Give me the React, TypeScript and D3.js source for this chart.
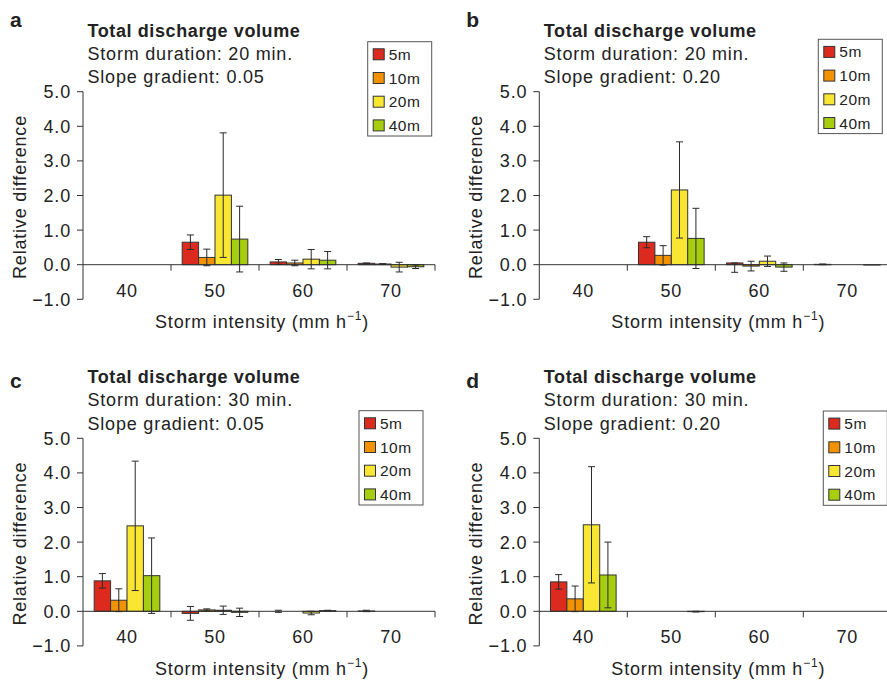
import * as d3 from 'd3';
import React from 'react';

// categories, series, ticks
const categories = ['40', '50', '60', '70'];
const series = ['5m', '10m', '20m', '40m'];
const colors = ['#dc2b1e', '#f39200', '#f8e633', '#a6ce0f'];
const yTicks = [5, 4, 3, 2, 1, 0, -1];

const letters = ['a', 'b', 'c', 'd'];
const durations = ['20', '20', '30', '30'];
const slopes = ['0.05', '0.20', '0.05', '0.20'];

// values per panel: one row per series (5m, 10m, 20m, 40m), one column per category
const valuesA = [
	[null, 0.65, 0.08, 0.04],
	[null, 0.21, 0.05, 0.02],
	[null, 2.01, 0.16, -0.07],
	[null, 0.74, 0.13, -0.06],
];
const errorsA = [
	[0, 0.21, 0.07, 0.01],
	[0, 0.24, 0.08, 0.01],
	[0, 1.8, 0.28, 0.14],
	[0, 0.95, 0.25, 0.05],
];

const valuesB = [
	[null, 0.65, 0.05, 0.01],
	[null, 0.27, -0.04, null],
	[null, 2.16, 0.1, null],
	[null, 0.76, -0.07, -0.01],
];
// [below, above] where asymmetric
const errorsB = [
	[0, 0.16, [0.27, 0], 0.01],
	[0, 0.28, 0.14, 0],
	[0, 1.39, 0.15, 0],
	[0, 0.87, 0.12, 0],
];

const valuesC = [
	[0.88, -0.06, 0.0, 0.01],
	[0.32, 0.04, null, null],
	[2.47, 0.03, -0.05, null],
	[1.03, -0.03, 0.02, null],
];
const errorsC = [
	[0.21, 0.2, 0.03, 0.02],
	[0.33, 0.03, 0, 0],
	[1.87, 0.12, 0.05, 0],
	[1.09, 0.12, 0.01, 0],
];

const valuesD = [
	[0.85, null, null, null],
	[0.36, null, null, null],
	[2.5, null, null, null],
	[1.05, -0.01, null, null],
];
const errorsD = [
	[0.21, 0, 0, 0],
	[0.37, 0, 0, 0],
	[1.68, 0, 0, 0],
	[0.95, 0.01, 0, 0],
];

const panelValues = [valuesA, valuesB, valuesC, valuesD];
const panelErrors = [errorsA, errorsB, errorsC, errorsD];

// layout
const W = 887;
const H = 681;
const plotW = 352;
const plotH = 207.6;
const origins = [
	[83, 91.7],
	[539.3, 91.7],
	[83, 438.3],
	[539.3, 438.3],
];
const letterY = [-64.7, -64.7, -50, -50];
const legendPos = [
	[284.7, -50],
	[279, -52.4],
	[276, -27.6],
	[284, -27.3],
];

const font = 'Liberation Sans, Arial, Helvetica, sans-serif';
const ink = '#222';

const Panel = ({ idx }) => {
	const [ox, oy] = origins[idx];
	const values = panelValues[idx];
	const errors = panelErrors[idx];

	const y = d3.scaleLinear().domain([-1, 5]).range([plotH, 0]);
	const x0 = d3.scaleBand().domain(categories).range([0, plotW]);
	const bw = x0.bandwidth();
	const pad = bw * 0.127;
	const x1 = d3.scaleBand().domain(series).range([pad, bw - pad]);
	const y0 = y(0);

	const [lx, ly] = legendPos[idx];

	return (
		<g transform={`translate(${ox},${oy})`} fontFamily={font} fill={ink}>
			<text x={-73} y={letterY[idx]} fontSize={21} fontWeight="bold">{letters[idx]}</text>
			<text x={4.5} y={-55.2} fontSize={18} fontWeight="bold" letterSpacing={0.6}>Total discharge volume</text>
			<text x={4.5} y={-32} fontSize={18} letterSpacing={0.8}>{`Storm duration: ${durations[idx]} min.`}</text>
			<text x={4.5} y={-8.7} fontSize={18} letterSpacing={0.8}>{`Slope gradient: ${slopes[idx]}`}</text>

			{/* y axis */}
			<line x1={0} x2={0} y1={y(5)} y2={y(-1)} stroke="#333" />
			{yTicks.map(t => (
				<g key={t}>
					<line x1={-6} x2={0} y1={y(t)} y2={y(t)} stroke="#333" />
					<text x={-12} y={y(t)} dy="0.36em" textAnchor="end" fontSize={18} letterSpacing={0.8}>
						{d3.format('.1f')(t).replace('-', '\u2212')}
					</text>
				</g>
			))}
			<text transform={`translate(-57,${y(2) + 1.5}) rotate(-90)`} textAnchor="middle" fontSize={18} letterSpacing={0.8}>
				Relative difference
			</text>

			{/* bars */}
			{series.map((s, si) =>
				categories.map((c, ci) => {
					const v = values[si][ci];
					if (v === null) return null;
					return (
						<rect
							key={`${s}-${c}`}
							x={x0(c) + x1(s)}
							width={x1.bandwidth()}
							y={y(Math.max(v, 0))}
							height={Math.abs(y(v) - y0)}
							fill={colors[si]}
							stroke="#333"
							strokeWidth={1}
						/>
					);
				})
			)}

			{/* x axis */}
			<line x1={0} x2={plotW} y1={y0} y2={y0} stroke="#333" />
			{categories.map(c => (
				<g key={c}>
					<line x1={x0(c) + bw} x2={x0(c) + bw} y1={y0} y2={y0 + 6} stroke="#333" />
					<text x={x0(c) + bw / 2} y={y0 + 32} textAnchor="middle" fontSize={18} letterSpacing={0.8}>{c}</text>
				</g>
			))}

			{/* error bars */}
			{series.map((s, si) =>
				categories.map((c, ci) => {
					const v = values[si][ci];
					const e = errors[si][ci];
					if (v === null) return null;
					const [lo, hi] = Array.isArray(e) ? e : [e, e];
					if (!lo && !hi) return null;
					const cx = x0(c) + x1(s) + x1.bandwidth() / 2;
					const yt = y(v + hi);
					const yb = y(v - lo);
					return (
						<g key={`e-${s}-${c}`} stroke="#2a2a2a" strokeWidth={1}>
							<line x1={cx} x2={cx} y1={yt} y2={yb} />
							<line x1={cx - 3.5} x2={cx + 3.5} y1={yt} y2={yt} />
							<line x1={cx - 3.5} x2={cx + 3.5} y1={yb} y2={yb} />
						</g>
					);
				})
			)}

			<text x={179} y={y0 + 63.3} textAnchor="middle" fontSize={18} letterSpacing={0.8}>
				Storm intensity (mm h<tspan fontSize={12} dy={-8}>{'\u22121'}</tspan><tspan dy={8}>)</tspan>
			</text>

			{/* legend */}
			<g transform={`translate(${lx},${ly})`}>
				<rect x={0} y={0} width={64} height={94.3} fill="#fff" stroke="#555" strokeWidth={1} />
				{series.map((s, si) => (
					<g key={s} transform={`translate(0,${12.6 + si * 23.7})`}>
						<rect x={5.5} y={-5.5} width={11} height={11} fill={colors[si]} stroke="#333" />
						<text x={21} y={0} dy="0.36em" fontSize={15.5} letterSpacing={0.5}>{s}</text>
					</g>
				))}
			</g>
		</g>
	);
};

const App = () => (
	<svg
		width={W}
		height={H}
		viewBox={`0 0 ${W} ${H}`}
		style={{ position: 'absolute', left: 0, top: 0, background: '#fff' }}
	>
		{letters.map((_, i) => (
			<Panel key={i} idx={i} />
		))}
	</svg>
);

export default App;
